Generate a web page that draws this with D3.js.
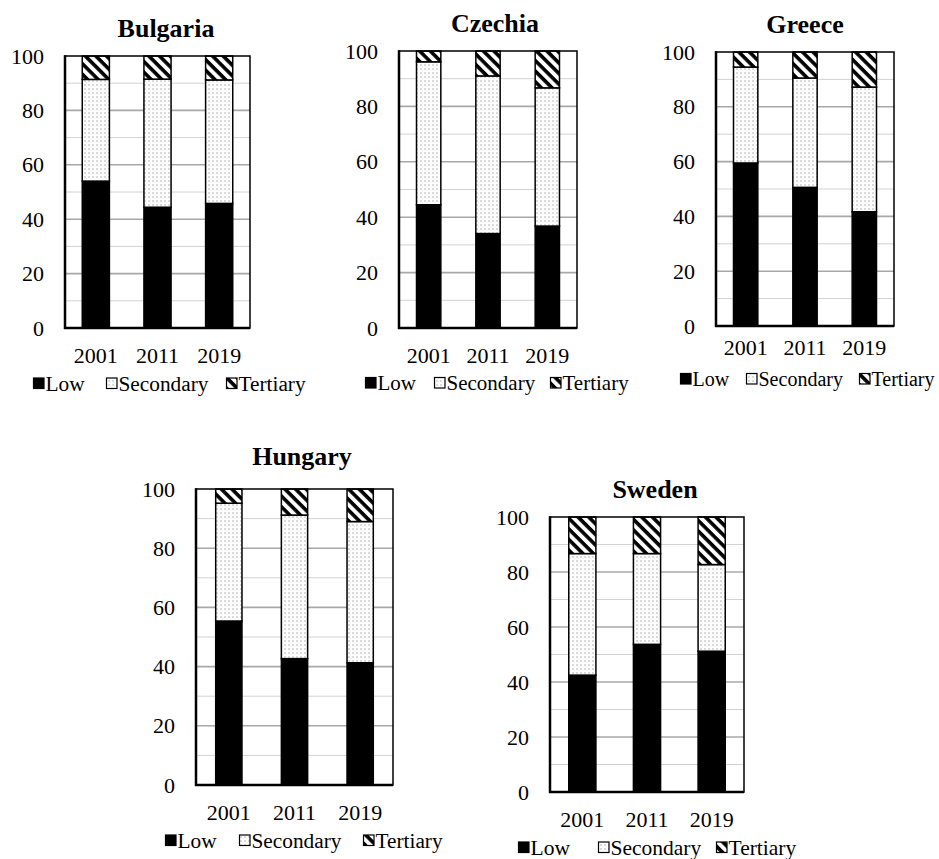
<!DOCTYPE html>
<html>
<head>
<meta charset="utf-8">
<script src="https://cdn.jsdelivr.net/npm/d3@7"></script>
<style>
  html, body { margin: 0; padding: 0; background: #fff; }
  svg { display: block; }
  svg text { font-family: "Liberation Serif", "Times New Roman", serif; }
</style>
</head>
<body>
<svg id="chart" width="939" height="859"></svg>
<script>
// ---------------- DATA ----------------
const countries = ["Bulgaria", "Czechia", "Greece", "Hungary", "Sweden"];
const years = ["2001", "2011", "2019"];
const seriesNames = ["Low", "Secondary", "Tertiary"];
const lowValues = [
  [54.0, 44.4, 45.8],
  [44.5, 34.1, 36.8],
  [59.5, 50.6, 41.7],
  [55.4, 42.7, 41.3],
  [42.5, 53.7, 51.2]
];
const secondaryValues = [
  [37.4, 47.1, 45.4],
  [51.6, 56.9, 49.9],
  [35.0, 39.9, 45.5],
  [39.8, 48.5, 47.7],
  [44.2, 33.0, 31.5]
];
const tertiaryValues = [
  [8.6, 8.5, 8.8],
  [3.9, 9.0, 13.3],
  [5.5, 9.5, 12.8],
  [4.8, 8.8, 11.0],
  [13.3, 13.3, 17.3]
];
const yTicks = [0, 20, 40, 60, 80, 100];
const yMinorTicks = [10, 30, 50, 70, 90];

// ---------------- LAYOUT ----------------
const layout = [
  { x0: 65,  x1: 250, y0: 56,  y1: 328, bar: 0.44, tx: 166, ty: 37,  xGap: 19.5, ly: 383.5, lx: [33, 106, 226], lf: 21.3 },
  { x0: 399, x1: 577, y0: 51,  y1: 328, bar: 0.41, tx: 495, ty: 32,  xGap: 19.5, ly: 383,   lx: [365, 434, 550], lf: 21 },
  { x0: 716, x1: 894, y0: 52,  y1: 326, bar: 0.41, tx: 805, ty: 33,  xGap: 13.5, ly: 379,   lx: [680, 746, 859], lf: 20 },
  { x0: 196, x1: 393, y0: 489, y1: 785, bar: 0.40, tx: 302, ty: 465, xGap: 19.5, ly: 840.5, lx: [165, 239, 363], lf: 21.3 },
  { x0: 550, x1: 744, y0: 517, y1: 792, bar: 0.42, tx: 655, ty: 498, xGap: 19.5, ly: 847.5, lx: [518, 598, 716], lf: 21.5 }
];
const FONT = "Liberation Serif, Times New Roman, serif";

const svg = d3.select("#chart").attr("font-family", FONT);
const defs = svg.append("defs");

// Secondary: light dotted pattern
const dots = defs.append("pattern").attr("id", "pat-sec")
  .attr("patternUnits", "userSpaceOnUse").attr("width", 4).attr("height", 4);
dots.append("rect").attr("width", 4).attr("height", 4).attr("fill", "#fff");
dots.append("rect").attr("x", 0).attr("y", 0).attr("width", 2).attr("height", 2).attr("fill", "#dadada");
dots.append("rect").attr("x", 2).attr("y", 2).attr("width", 1).attr("height", 1).attr("fill", "#ececec");

// Tertiary: wide downward diagonal stripes
const stripes = defs.append("pattern").attr("id", "pat-ter")
  .attr("patternUnits", "userSpaceOnUse").attr("width", 7.5).attr("height", 7.5)
  .attr("patternTransform", "rotate(45)");
stripes.append("rect").attr("width", 7.5).attr("height", 7.5).attr("fill", "#fff");
stripes.append("rect").attr("x", 0).attr("y", 0).attr("width", 7.5).attr("height", 3.6).attr("fill", "#000");

const fills = { Low: "#000", Secondary: "url(#pat-sec)", Tertiary: "url(#pat-ter)" };

countries.forEach((country, ci) => {
  const L = layout[ci];
  const g = svg.append("g");

  const rows = years.map((yr, i) => ({
    year: yr,
    Low: lowValues[ci][i],
    Secondary: secondaryValues[ci][i],
    Tertiary: tertiaryValues[ci][i]
  }));

  const x = d3.scaleBand().domain(years).range([L.x0, L.x1]).padding(0);
  const y = d3.scaleLinear().domain([0, 100]).range([L.y1, L.y0]);

  // gridlines
  g.selectAll("line.minor").data(yMinorTicks).join("line")
    .attr("x1", L.x0).attr("x2", L.x1)
    .attr("y1", d => y(d)).attr("y2", d => y(d))
    .attr("stroke", "#d2d2d2").attr("stroke-width", 1);
  g.selectAll("line.major").data(yTicks.filter(t => t > 0 && t < 100)).join("line")
    .attr("x1", L.x0).attr("x2", L.x1)
    .attr("y1", d => y(d)).attr("y2", d => y(d))
    .attr("stroke", "#a8a8a8").attr("stroke-width", 1.6);

  // stacked bars
  const stack = d3.stack().keys(seriesNames)(rows);
  const bw = x.bandwidth() * L.bar;
  stack.forEach(layer => {
    g.append("g").selectAll("rect").data(layer).join("rect")
      .attr("x", d => x(d.data.year) + (x.bandwidth() - bw) / 2)
      .attr("y", d => y(d[1]))
      .attr("width", bw)
      .attr("height", d => y(d[0]) - y(d[1]))
      .attr("fill", fills[layer.key])
      .attr("stroke", "#000").attr("stroke-width", 1.5);
  });

  // plot border
  g.append("rect").attr("x", L.x0).attr("y", L.y0)
    .attr("width", L.x1 - L.x0).attr("height", L.y1 - L.y0)
    .attr("fill", "none").attr("stroke", "#000").attr("stroke-width", 1.5);
  // thicker axis lines
  g.append("line").attr("x1", L.x0).attr("x2", L.x0).attr("y1", L.y0 - 0.75).attr("y2", L.y1 + 1)
    .attr("stroke", "#000").attr("stroke-width", 2.5);
  g.append("line").attr("x1", L.x0 - 1).attr("x2", L.x1).attr("y1", L.y1).attr("y2", L.y1)
    .attr("stroke", "#000").attr("stroke-width", 2.5);

  // y axis labels
  const ya = g.append("g").attr("transform", `translate(${L.x0},0)`)
    .call(d3.axisLeft(y).tickValues(yTicks).tickSize(0).tickPadding(21));
  ya.attr("font-family", FONT).attr("font-size", 22);
  ya.select(".domain").remove();
  ya.selectAll("text").attr("fill", "#000");

  // x axis labels
  const xa = g.append("g").attr("transform", `translate(0,${L.y1})`)
    .call(d3.axisBottom(x).tickSize(0).tickPadding(L.xGap));
  xa.attr("font-family", FONT).attr("font-size", 22);
  xa.select(".domain").remove();
  xa.selectAll("text").attr("fill", "#000");

  // title
  g.append("text").attr("x", L.tx).attr("y", L.ty)
    .attr("text-anchor", "middle").attr("font-weight", "bold")
    .attr("font-size", 26).text(country);

  // legend
  const leg = g.append("g");
  seriesNames.forEach((s, si) => {
    const mx = L.lx[si];
    leg.append("rect").attr("x", mx + 0.5).attr("y", L.ly - 5.5)
      .attr("width", 10.5).attr("height", 10.5)
      .attr("fill", fills[s]).attr("stroke", "#000").attr("stroke-width", 1.2);
    leg.append("text").attr("x", mx + 12.5).attr("y", L.ly + 7)
      .attr("font-size", L.lf).text(s);
  });
});
</script>
</body>
</html>
